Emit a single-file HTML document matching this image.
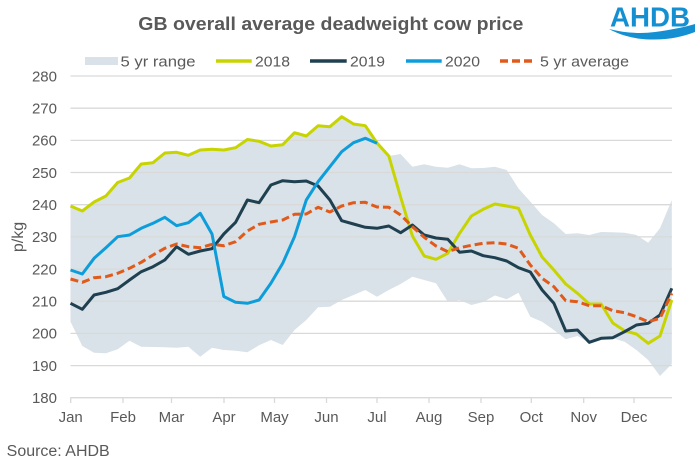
<!DOCTYPE html>
<html>
<head>
<meta charset="utf-8">
<style>
html,body{margin:0;padding:0;background:#fff;}
svg{display:block;}
text{font-family:"Liberation Sans",Arial,sans-serif;}
</style>
</head>
<body>
<svg width="696" height="463" viewBox="0 0 696 463" xmlns="http://www.w3.org/2000/svg">
<rect x="0" y="0" width="696" height="463" fill="#ffffff"/>

<!-- Title -->
<text x="138.3" y="30" font-size="18.5" font-weight="bold" fill="#595959" textLength="385" lengthAdjust="spacingAndGlyphs">GB overall average deadweight cow price</text>

<!-- AHDB logo -->
<text x="610" y="26.7" font-size="28" font-weight="bold" fill="#1490d2" textLength="80" lengthAdjust="spacingAndGlyphs">AHDB</text>
<path d="M609,29 C625,33 640,34 655,32 C670,30 685,27 695,24 L695,32 C682,37 668,40 650,39.5 C632,39 618,34 609,29 Z" fill="#1490d2"/>

<!-- Legend -->
<rect x="85" y="57" width="33" height="8" fill="#d9e2e8"/>
<text x="120.5" y="66.7" font-size="14.5" fill="#595959" textLength="75" lengthAdjust="spacingAndGlyphs">5 yr range</text>
<line x1="216" y1="61" x2="251.7" y2="61" stroke="#c8d400" stroke-width="3.5"/>
<text x="255" y="66.7" font-size="14.5" fill="#595959" textLength="35" lengthAdjust="spacingAndGlyphs">2018</text>
<line x1="310" y1="61" x2="346.7" y2="61" stroke="#1f4050" stroke-width="3.5"/>
<text x="350" y="66.7" font-size="14.5" fill="#595959" textLength="35" lengthAdjust="spacingAndGlyphs">2019</text>
<line x1="406" y1="61" x2="441.7" y2="61" stroke="#0d9ddb" stroke-width="3.5"/>
<text x="445" y="66.7" font-size="14.5" fill="#595959" textLength="35" lengthAdjust="spacingAndGlyphs">2020</text>
<line x1="500" y1="61" x2="536" y2="61" stroke="#e05a1b" stroke-width="3.5" stroke-dasharray="8 4"/>
<text x="540" y="66.7" font-size="14.5" fill="#595959" textLength="89" lengthAdjust="spacingAndGlyphs">5 yr average</text>

<!-- Band -->
<polygon fill="#d9e2e8" points="70.5,206 82.3,211 94.1,202 105.9,196 117.7,182.5 129.5,178 141.2,164 153,162.7 164.8,153 176.6,152.3 188.4,155.3 200.2,150 212,149.3 223.8,150 235.6,147.7 247.4,139.5 259.1,141.3 270.9,146 282.7,144.7 294.5,132.7 306.3,136 318.1,125.7 329.9,126.7 341.7,116.7 353.5,124 365.3,125.7 377,143 388.8,156 400.6,154 412.4,166.7 424.2,164.3 436,166.7 447.8,167.7 459.6,164.3 471.4,168.3 483.2,168 494.9,166.7 506.7,170 518.5,188.5 530.3,201.5 542.1,215 553.9,223.3 565.7,234 577.5,233.3 589.3,235 601.1,232 612.8,232.3 624.6,232.7 636.4,235 648.2,242.7 660,228.3 671.8,200 671.8,364 660,376 648.2,360 636.4,350 624.6,341.7 612.8,338.3 601.1,340 589.3,342.7 577.5,336 565.7,339.3 553.9,330 542.1,321.7 530.3,316.7 518.5,292.7 506.7,299.2 494.9,295.5 483.2,302 471.4,305 459.6,300 447.8,301.7 436,283.3 424.2,280 412.4,276.7 400.6,284 388.8,290 377,296.7 365.3,290 353.5,295 341.7,300 329.9,306.7 318.1,307.3 306.3,320 294.5,330 282.7,345 270.9,340 259.1,345.3 247.4,352.3 235.6,350.7 223.8,350 212,347.7 200.2,356.7 188.4,346.7 176.6,347.7 164.8,347.3 153,347 141.2,346.7 129.5,340.7 117.7,349.3 105.9,353.3 94.1,352.7 82.3,346 70.5,321.7"/>

<!-- Gridlines -->
<g stroke="#d9d9d9" stroke-width="1.3">
<line x1="70.5" y1="76" x2="672" y2="76"/>
<line x1="70.5" y1="108.2" x2="672" y2="108.2"/>
<line x1="70.5" y1="140.4" x2="672" y2="140.4"/>
<line x1="70.5" y1="172.5" x2="672" y2="172.5"/>
<line x1="70.5" y1="204.7" x2="672" y2="204.7"/>
<line x1="70.5" y1="236.9" x2="672" y2="236.9"/>
<line x1="70.5" y1="269.1" x2="672" y2="269.1"/>
<line x1="70.5" y1="301.2" x2="672" y2="301.2"/>
<line x1="70.5" y1="333.4" x2="672" y2="333.4"/>
<line x1="70.5" y1="365.6" x2="672" y2="365.6"/>
<line x1="70.5" y1="397.7" x2="672" y2="397.7"/>
</g>
<!-- Ticks -->
<g stroke="#d9d9d9" stroke-width="1.3">
<line x1="70.7" y1="397.7" x2="70.7" y2="403"/>
<line x1="123" y1="397.7" x2="123" y2="403"/>
<line x1="171.5" y1="397.7" x2="171.5" y2="403"/>
<line x1="224" y1="397.7" x2="224" y2="403"/>
<line x1="274.5" y1="397.7" x2="274.5" y2="403"/>
<line x1="326.5" y1="397.7" x2="326.5" y2="403"/>
<line x1="377" y1="397.7" x2="377" y2="403"/>
<line x1="429" y1="397.7" x2="429" y2="403"/>
<line x1="481" y1="397.7" x2="481" y2="403"/>
<line x1="531.3" y1="397.7" x2="531.3" y2="403"/>
<line x1="583.7" y1="397.7" x2="583.7" y2="403"/>
<line x1="634" y1="397.7" x2="634" y2="403"/>
</g>

<!-- Y labels -->
<g font-size="15" fill="#595959" text-anchor="end">
<text x="57" y="81.3">280</text>
<text x="57" y="113.5">270</text>
<text x="57" y="145.7">260</text>
<text x="57" y="177.8">250</text>
<text x="57" y="210">240</text>
<text x="57" y="242.2">230</text>
<text x="57" y="274.4">220</text>
<text x="57" y="306.5">210</text>
<text x="57" y="338.7">200</text>
<text x="57" y="370.9">190</text>
<text x="57" y="403">180</text>
</g>
<text transform="translate(23,237) rotate(-90)" font-size="16" fill="#595959" text-anchor="middle">p/kg</text>

<!-- X labels -->
<g font-size="15" fill="#595959" text-anchor="middle">
<text x="70.7" y="422">Jan</text>
<text x="123" y="422">Feb</text>
<text x="171.5" y="422">Mar</text>
<text x="224" y="422">Apr</text>
<text x="274.5" y="422">May</text>
<text x="326.5" y="422">Jun</text>
<text x="377" y="422">Jul</text>
<text x="429" y="422">Aug</text>
<text x="481" y="422">Sep</text>
<text x="531.3" y="422">Oct</text>
<text x="583.7" y="422">Nov</text>
<text x="634" y="422">Dec</text>
</g>

<!-- Series -->
<g fill="none" stroke-width="3" stroke-linejoin="round" stroke-linecap="butt">
<polyline stroke="#c8d400" points="70.5,206 82.3,211 94.1,202 105.9,196 117.7,182.5 129.5,178 141.2,164 153,162.7 164.8,153 176.6,152.3 188.4,155.3 200.2,150 212,149.3 223.8,150 235.6,147.7 247.4,139.5 259.1,141.3 270.9,146 282.7,144.7 294.5,132.7 306.3,136 318.1,125.7 329.9,126.7 341.7,116.7 353.5,124 365.3,125.7 377,143 388.8,156 400.6,197 412.4,236 424.2,256 436,259.3 447.8,253.3 459.6,233.3 471.4,216 483.2,209.3 494.9,204 506.7,206 518.5,208.3 530.3,235 542.1,257 553.9,270 565.7,284 577.5,293.3 589.3,304 601.1,304 612.8,323 624.6,330.7 636.4,334 648.2,343.3 660,336 671.8,300"/>
<polyline stroke="#1f4050" points="70.5,303.3 82.3,309.3 94.1,295 105.9,292.3 117.7,288.7 129.5,280 141.2,271.7 153,266.7 164.8,260 176.6,246.7 188.4,254.3 200.2,251 212,248.7 223.8,234 235.6,222.3 247.4,200 259.1,202.7 270.9,185 282.7,180.7 294.5,181.7 306.3,181 318.1,186 329.9,200 341.7,220.7 353.5,224 365.3,227.3 377,228.3 388.8,226 400.6,232.7 412.4,225 424.2,235 436,238 447.8,239.3 459.6,252.3 471.4,251 483.2,255.7 494.9,257.7 506.7,261 518.5,267.7 530.3,272 542.1,290 553.9,303.3 565.7,331 577.5,330 589.3,342.3 601.1,338.3 612.8,337.7 624.6,331.7 636.4,325 648.2,323.3 660,315 671.8,288.3"/>
<polyline stroke="#0d9ddb" points="70.5,270 82.3,274 94.1,258.3 105.9,247.7 117.7,236.7 129.5,235 141.2,228.3 153,223.3 164.8,217.3 176.6,225.7 188.4,222.7 200.2,213.3 212,234 223.8,296.5 235.6,302.3 247.4,303.3 259.1,300 270.9,283.3 282.7,263.3 294.5,236.7 306.3,200 318.1,181.7 329.9,166.7 341.7,151.7 353.5,142.7 365.3,138.3 377,143.3"/>
<polyline stroke="#e05a1b" stroke-dasharray="8 4" points="70.5,279 82.3,282.3 94.1,277.7 105.9,276.7 117.7,273.3 129.5,268.3 141.2,262.3 153,255 164.8,248.3 176.6,244 188.4,246.7 200.2,247.7 212,244.3 223.8,245.7 235.6,241.7 247.4,231 259.1,224.3 270.9,222 282.7,220 294.5,214.3 306.3,214 318.1,207.3 329.9,212 341.7,206 353.5,202.7 365.3,202.3 377,207 388.8,207.3 400.6,215 412.4,226.7 424.2,237.3 436,246 447.8,251.7 459.6,247.7 471.4,245.3 483.2,243.3 494.9,242.7 506.7,244 518.5,248.3 530.3,265 542.1,278.3 553.9,286.7 565.7,300.7 577.5,301.7 589.3,305.7 601.1,305.7 612.8,310.7 624.6,312.7 636.4,316.7 648.2,321.7 660,318.3 671.8,293.3"/>
</g>

<!-- Source -->
<text x="6.7" y="456" font-size="15.5" fill="#595959" textLength="103" lengthAdjust="spacingAndGlyphs">Source: AHDB</text>
</svg>
</body>
</html>
